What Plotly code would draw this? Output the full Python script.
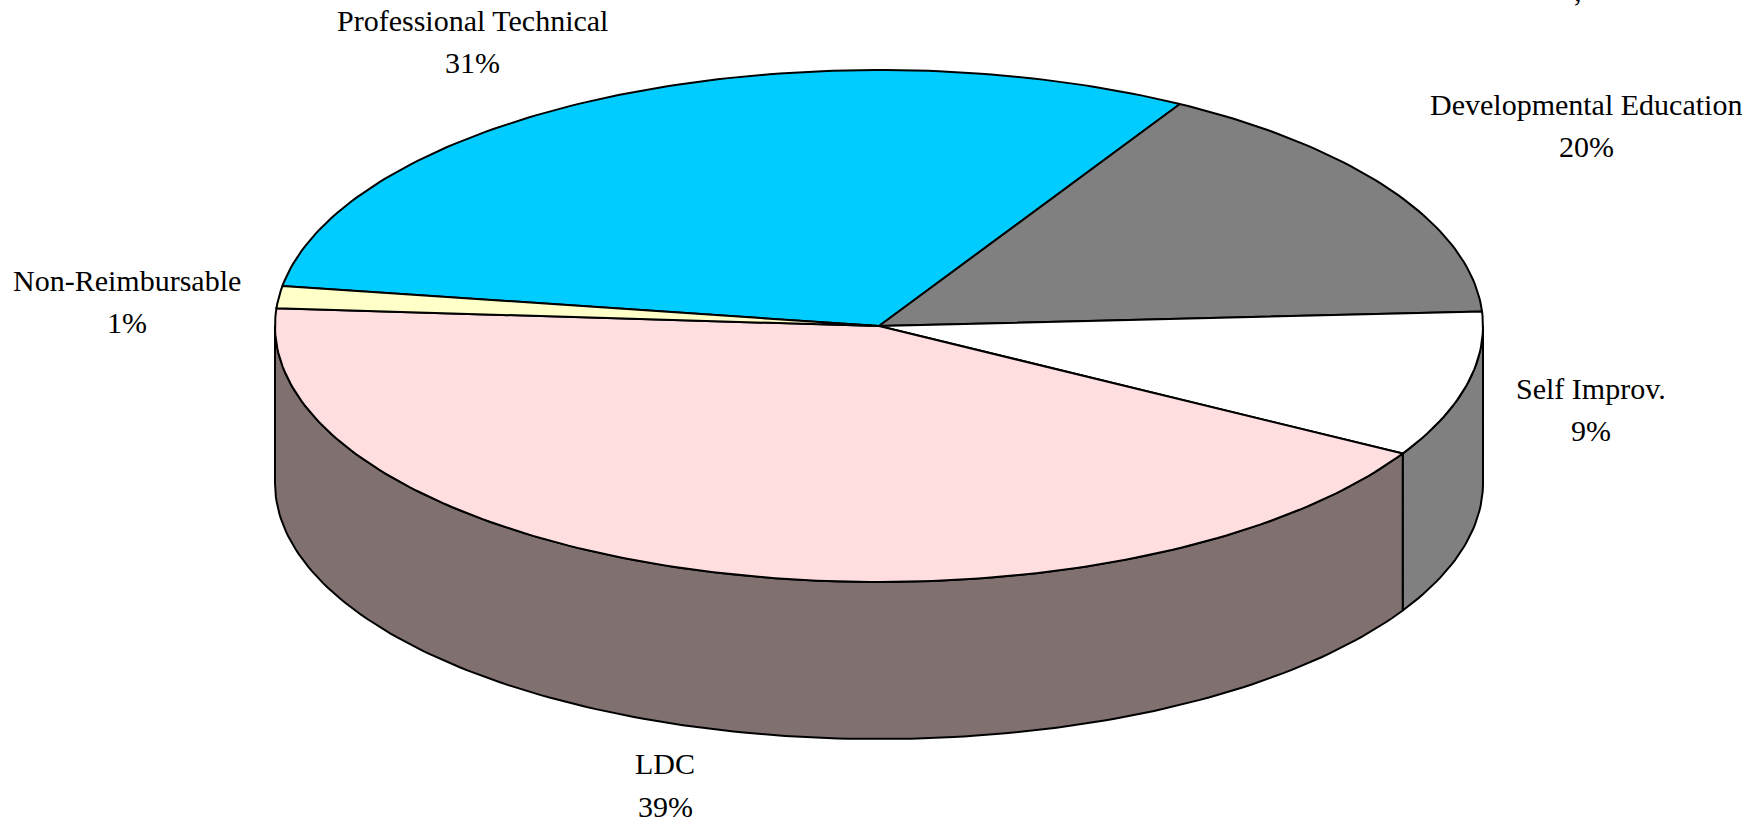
import math
import plotly.graph_objects as go

# Data
categories = ["Professional Technical", "Developmental Education", "Self Improv.", "LDC", "Non-Reimbursable"]
percent_labels = [31, 20, 9, 39, 1]
# Share of the drawn ellipse each wedge occupies (the picture's wedges differ from its labels)
drawn_shares = [30.8, 15.8, 9.2, 42.8, 1.4]

# Style / layout
top_colors = ["#00CCFF", "#808080", "#FFFFFF", "#FFDEE0", "#FFFFC8"]
side_colors = ["#00CCFF", "#808080", "#808080", "#807070", "#FFFFC8"]
name_pos = [(472, 20), (1586, 104), (1591, 388), (665, 763), (127, 280)]
pct_pos = [(472, 62), (1586, 146), (1591, 430), (665, 806), (127, 322)]
CX, CY, RX, RY, DEPTH = 879, 326, 604, 256, 157
START_ANGLE = 171  # where the first wedge starts, degrees counter-clockwise from +x; wedges run clockwise
LW = 2
FONT = dict(family="Liberation Serif", size=30, color="black")


def point(a, dy=0):
    r = math.radians(a)
    return CX + RX * math.cos(r), CY - RY * math.sin(r) + dy


def arc(a0, a1, dy=0):
    n = max(2, int(abs(a1 - a0) / 1.0) + 1)
    return [point(a0 + (a1 - a0) * i / (n - 1), dy) for i in range(n)]


total = sum(drawn_shares)
spans = []
a = START_ANGLE
for s in drawn_shares:
    b = a - s / total * 360
    spans.append((a, b))
    a = b

fig = go.Figure()


def poly(pts, fill):
    fig.add_trace(go.Scatter(
        x=[p[0] for p in pts] + [pts[0][0]],
        y=[p[1] for p in pts] + [pts[0][1]],
        mode="lines", fill="toself", fillcolor=fill,
        line=dict(color="black", width=LW), hoverinfo="skip", showlegend=False))


# side walls (lower half of the ellipse only)
for (a0, b0), col in zip(spans, side_colors):
    for k in (0, -360, 360):
        lo, hi = b0 + k, a0 + k  # hi > lo, going clockwise from hi to lo
        s = min(hi, 0)
        e = max(lo, -180)
        if s > e:
            poly(arc(s, e) + arc(e, s, DEPTH), col)

# top surface
for (a0, b0), col in zip(spans, top_colors):
    poly([(CX, CY)] + arc(a0, b0), col)

for name, pct, np_, pp in zip(categories, percent_labels, name_pos, pct_pos):
    fig.add_annotation(x=np_[0], y=np_[1], text=name, showarrow=False, font=FONT,
                       xanchor="center", yanchor="middle")
    fig.add_annotation(x=pp[0], y=pp[1], text=f"{pct}%", showarrow=False, font=FONT,
                       xanchor="center", yanchor="middle")

# clipped fragment of text at the very top edge
fig.add_annotation(x=1578, y=0, yshift=10, text=",", showarrow=False, font=FONT,
                   xanchor="center", yanchor="middle")

fig.update_layout(
    width=1762, height=825, margin=dict(l=0, r=0, t=0, b=0),
    paper_bgcolor="white", plot_bgcolor="white", showlegend=False,
    xaxis=dict(range=[0, 1762], visible=False, fixedrange=True),
    yaxis=dict(range=[825, 0], visible=False, fixedrange=True),
)
fig.write_html("out.html", post_script="document.body.style.margin='0';", config={"displayModeBar": False})
